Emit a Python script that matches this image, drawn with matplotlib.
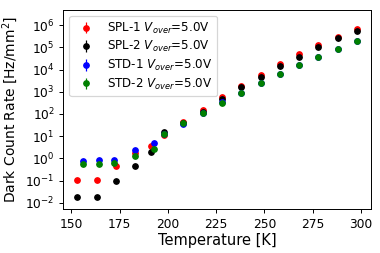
import matplotlib
matplotlib.use('Agg')
import matplotlib.pyplot as plt
import matplotlib.ticker as ticker
import numpy as np

# temperatures [K]
temp_spl = [153, 163, 173, 183, 191, 198, 208, 218, 228, 238, 248, 258, 268, 278, 288, 298]
temp_std = [156, 164, 172, 183, 193, 198, 208, 218, 228, 238, 248, 258, 268, 278, 288, 298]

# dark count rate [Hz/mm^2]
spl1 = [0.11, 0.11, 0.45, 1.7, 3.5, 11, 45, 150, 560, 1860, 5900, 17000, 48000, 126000, 295000, 660000]
spl2 = [0.019, 0.018, 0.10, 0.47, 1.9, 16, 40, 125, 470, 1600, 4600, 13800, 38000, 100000, 250000, 560000]
std1 = [0.78, 0.83, 0.83, 2.4, 4.7, 12, 35, 115, 330, 910, 2450, 6500, 16500, 37000, 84000, 190000]
std2 = [0.57, 0.55, 0.63, 1.3, 2.6, 12.5, 38, 112, 320, 890, 2400, 6300, 15500, 36000, 83000, 190000]

series = [
    ('SPL-1', temp_spl, spl1, 'red'),
    ('SPL-2', temp_spl, spl2, 'black'),
    ('STD-1', temp_std, std1, 'blue'),
    ('STD-2', temp_std, std2, 'green'),
]

dpi = 88
fig = plt.figure(figsize=(381 / dpi, 253 / dpi), dpi=dpi)
ax = fig.add_axes([63.3 / 381, 44 / 253, 307.7 / 381, 199 / 253])

for name, t, r, c in series:
    r = np.array(r)
    ax.errorbar(t, r, yerr=0.2 * r, fmt='o', color=c, markersize=4.5,
                elinewidth=1, label=name + r' $V_{over}$=5.0V')

ax.set_yscale('log')
ax.set_ylim(10 ** -2.28, 10 ** 6.68)
ax.yaxis.set_major_locator(ticker.LogLocator(base=10, numticks=20))
ax.yaxis.set_minor_locator(ticker.NullLocator())
ax.set_xlabel('Temperature [K]', fontsize=12, labelpad=2)
ax.set_ylabel('Dark Count Rate [Hz/mm$^2$]', fontsize=11.4)
ax.set_xticks([150, 175, 200, 225, 250, 275, 300])
ax.legend(loc='upper left', fontsize=9.7, labelspacing=0.3)

fig.savefig('out.png', dpi=dpi)
